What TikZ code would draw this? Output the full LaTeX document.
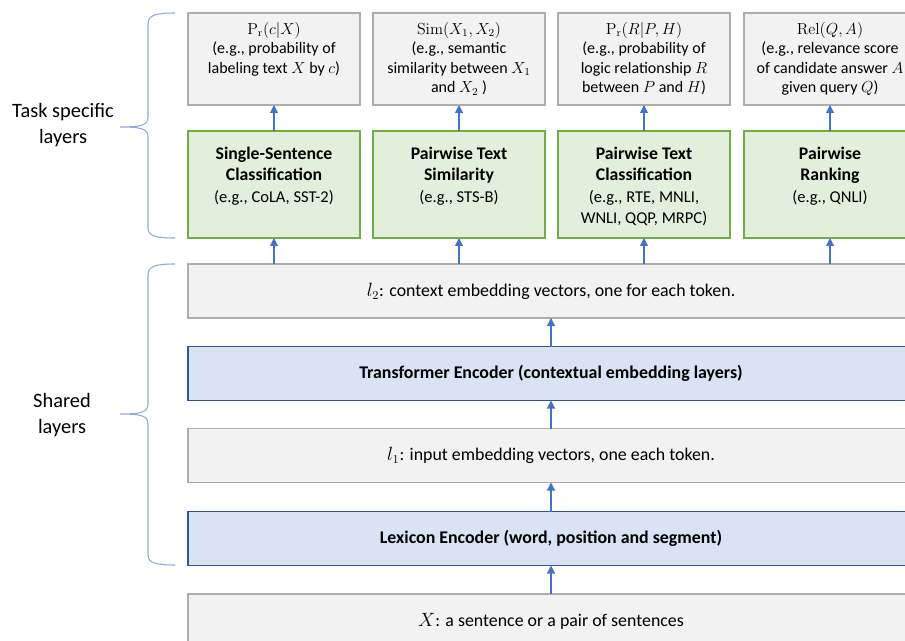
\documentclass[tikz,border=0pt]{standalone}
\usepackage[no-math]{fontspec}
\setmainfont{Carlito}
\usetikzlibrary{arrows.meta}
\definecolor{grayfill}{HTML}{F2F2F2}
\definecolor{grayline}{HTML}{ADADAD}
\definecolor{greenfill}{HTML}{E2EFDA}
\definecolor{greenline}{HTML}{70AD47}
\definecolor{bluefill}{HTML}{DAE3F3}
\definecolor{blueline}{HTML}{2F5597}
\definecolor{arrowcol}{HTML}{4472C4}
\definecolor{bracecol}{HTML}{8FAADC}
\newcommand{\outtext}[1]{\parbox[c][69pt][t]{129pt}{\centering\fontsize{12}{14.6}\selectfont\rule{0pt}{16pt}#1}}
\newcommand{\tasktext}[1]{\parbox[c][80.25pt][t]{129pt}{\centering\fontsize{12.4}{16}\selectfont\rule{0pt}{21.5pt}#1}}
\newcommand{\tb}[1]{{\fontsize{13.3}{16}\selectfont\bfseries #1}}
\begin{document}
\begin{tikzpicture}[x=0.75pt,y=-0.75pt,
  outbox/.style={draw=grayline, fill=grayfill, line width=1.1pt, inner sep=0pt, outer sep=0pt, minimum width=129pt, minimum height=69pt},
  taskbox/.style={draw=greenline, fill=greenfill, line width=1.1pt, inner sep=0pt, outer sep=0pt, minimum width=129pt, minimum height=80.25pt},
  layerbox/.style={draw=grayline, fill=grayfill, line width=1.1pt, inner sep=0pt, outer sep=0pt, minimum width=544.5pt, minimum height=40.5pt, font=\fontsize{13.4}{16}\selectfont},
  encbox/.style={draw=blueline, fill=bluefill, line width=1.1pt, inner sep=0pt, outer sep=0pt, minimum width=544.5pt, minimum height=40.5pt, font=\fontsize{13.4}{16}\selectfont\bfseries},
  arr/.style={-{Triangle[length=6pt,width=6pt]}, draw=arrowcol, line width=0.8pt},
  bracepath/.style={draw=bracecol, line width=0.8pt},
  sidelabel/.style={align=center, font=\fontsize{15.3}{19.5}\selectfont}
]
\useasboundingbox (0,0) rectangle (905,641);
\clip (0,0) rectangle (905,641);

% output boxes
\node[outbox] (o1) at (274,59) {\outtext{$\mathrm{P_r}(c|X)$\\(e.g., probability of\\labeling text $X$ by $c$)}};
\node[outbox] (o2) at (459,59) {\outtext{$\mathrm{Sim}(X_1,X_2)$\\(e.g., semantic\\similarity between $X_1$\\and $X_2$ )}};
\node[outbox] (o3) at (644,59) {\outtext{$\mathrm{P_r}(R|P,H)$\\(e.g., probability of\\logic relationship $R$\\between $P$ and $H$)}};
\node[outbox] (o4) at (830,59) {\outtext{$\mathrm{Rel}(Q,A)$\\(e.g., relevance score\\of candidate answer $A$\\given query $Q$)}};

% task boxes
\node[taskbox] (t1) at (274,184.5) {\tasktext{\tb{Single-Sentence}\\\tb{Classification}\\(e.g., CoLA, SST-2)}};
\node[taskbox] (t2) at (459,184.5) {\tasktext{\tb{Pairwise Text}\\\tb{Similarity}\\(e.g., STS-B)}};
\node[taskbox] (t3) at (644,184.5) {\tasktext{\tb{Pairwise Text}\\\tb{Classification}\\(e.g., RTE, MNLI,\\WNLI, QQP, MRPC)}};
\node[taskbox] (t4) at (830,184.5) {\tasktext{\tb{Pairwise}\\\tb{Ranking}\\(e.g., QNLI)}};

% shared layers
\node[layerbox] (l2) at (551,291) {$l_2$: context embedding vectors, one for each token.};
\node[encbox] (enc) at (551,373.5) {Transformer Encoder (contextual embedding layers)};
\node[layerbox] (l1) at (551,455.5) {$l_1$: input embedding vectors, one each token.};
\node[encbox] (lex) at (551,538.5) {Lexicon Encoder (word, position and segment)};
\node[layerbox] (x) at (551,621) {$X$: a sentence or a pair of sentences};

% arrows
\draw[arr] (t1.north) -- (o1.south);
\draw[arr] (t2.north) -- (o2.south);
\draw[arr] (t3.north) -- (o3.south);
\draw[arr] (t4.north) -- (o4.south);
\draw[arr] (l2.north -| t1) -- (t1.south);
\draw[arr] (l2.north -| t2) -- (t2.south);
\draw[arr] (l2.north -| t3) -- (t3.south);
\draw[arr] (l2.north -| t4) -- (t4.south);
\draw[arr] (enc.north) -- (l2.south);
\draw[arr] (l1.north) -- (enc.south);
\draw[arr] (lex.north) -- (l1.south);
\draw[arr] (x.north) -- (lex.south);

% braces
\draw[bracepath] (175,13) .. controls (156,13) and (148,15) .. (148,24) -- (148,117)
  .. controls (148,125) and (142,127) .. (120,127)
  .. controls (142,127) and (148,129) .. (148,137) -- (148,228)
  .. controls (148,236) and (156,238) .. (175,238);
\draw[bracepath] (175,264) .. controls (156,264) and (148,266) .. (148,275) -- (148,404)
  .. controls (148,412) and (142,414) .. (120,414)
  .. controls (142,414) and (148,416) .. (148,424) -- (148,555)
  .. controls (148,563) and (156,565) .. (175,565);

\node[sidelabel] (tasklab) at (63,125) {Task specific\\layers};
\node[sidelabel] (sharedlab) at (62,415) {Shared\\layers};
\end{tikzpicture}
\end{document}
